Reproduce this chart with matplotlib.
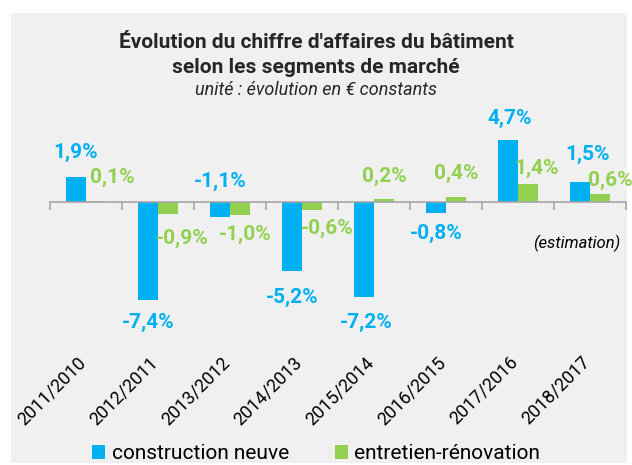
import matplotlib.pyplot as plt
import matplotlib.patches as mpatches
import numpy as np

plt.rcParams['font.family'] = ['Roboto', 'DejaVu Sans']

# données
periodes = ['2011/2010', '2012/2011', '2013/2012', '2014/2013',
            '2015/2014', '2016/2015', '2017/2016', '2018/2017']
construction = [1.9, -7.4, -1.1, -5.2, -7.2, -0.8, 4.7, 1.5]
entretien = [0.1, -0.9, -1.0, -0.6, 0.2, 0.4, 1.4, 0.6]

# décalages des étiquettes (pixels)
off_bleu = [(0, 24), (0, -23), (0, 35), (0, -27), (2, -25), (0, -21), (2, 22), (8, 28)]
off_vert = [(16, 23), (14, -25), (5, -19), (15, -19), (0, 23), (0, 23), (8, 15), (10, 14)]

BLEU = '#00b0f0'
VERT = '#92d050'

fig = plt.figure(figsize=(6.32, 4.65), dpi=100, facecolor='white')
# fond gris
fig.patches.append(mpatches.Rectangle((11 / 632, 2 / 465), 616 / 632, 450 / 465,
                                      transform=fig.transFigure, facecolor='#f0f0f0',
                                      edgecolor='none', zorder=-10))

ax = fig.add_axes([50 / 632, 0.2675, 576 / 632, 0.4968])
ax.set_facecolor('none')

x = np.arange(len(periodes))
w = 0.28
ax.bar(x - w / 2, construction, w, color=BLEU, label='construction neuve', zorder=2)
ax.bar(x + w / 2, entretien, w, color=VERT, label='entretien-rénovation', zorder=2)

ax.set_xlim(-0.5, len(periodes) - 0.5)
ax.set_ylim(-10.5, 7)

# étiquettes de valeurs
for i in range(len(periodes)):
    dx, dy = off_bleu[i]
    ax.annotate(f'{construction[i]:.1f}%'.replace('.', ','), (x[i] - w / 2, construction[i]),
                xytext=(dx, dy), textcoords='offset pixels', ha='center', va='center',
                color=BLEU, fontsize=15, fontweight='bold', annotation_clip=False)
    dx, dy = off_vert[i]
    ax.annotate(f'{entretien[i]:.1f}%'.replace('.', ','), (x[i] + w / 2, entretien[i]),
                xytext=(dx, dy), textcoords='offset pixels', ha='center', va='center',
                color=VERT, fontsize=15, fontweight='bold', annotation_clip=False)

# axe horizontal au niveau zéro
for s in ['top', 'right', 'left']:
    ax.spines[s].set_visible(False)
ax.spines['bottom'].set_position(('data', 0))
ax.spines['bottom'].set_color('#a6a6a6')
ax.spines['bottom'].set_linewidth(1.2)
ax.set_yticks([])
ax.set_xticks(np.arange(len(periodes) + 1) - 0.5)
ax.tick_params(axis='x', length=6, width=1.2, color='#a6a6a6', labelbottom=False)

# libellés en bas
sec = ax.secondary_xaxis('bottom')
sec.set_xticks(x + 0.05, periodes, rotation=45, ha='right', va='top', fontsize=13)
sec.tick_params(length=0, pad=9)
sec.spines['bottom'].set_visible(False)

ax.text(0.99, 0.423, '(estimation)', transform=ax.transAxes, ha='right', va='center',
        style='italic', fontsize=12)

fig.text(0.5, 0.908, "Évolution du chiffre d'affaires du bâtiment", ha='center', va='center',
         fontsize=15, fontweight='bold', color='#262626')
fig.text(0.5, 0.855, 'selon les segments de marché', ha='center', va='center',
         fontsize=15, fontweight='bold', color='#262626')
fig.text(0.5, 0.806, 'unité : évolution en € constants', ha='center', va='center',
         fontsize=13, style='italic', color='#262626')

fig.legend(loc='center', bbox_to_anchor=(0.5, 0.024), ncol=2, frameon=False,
           fontsize=15, handlelength=0.65, handleheight=0.65, handletextpad=0.3,
           columnspacing=2.2)

fig.savefig('out.png', dpi=100, facecolor='white')
